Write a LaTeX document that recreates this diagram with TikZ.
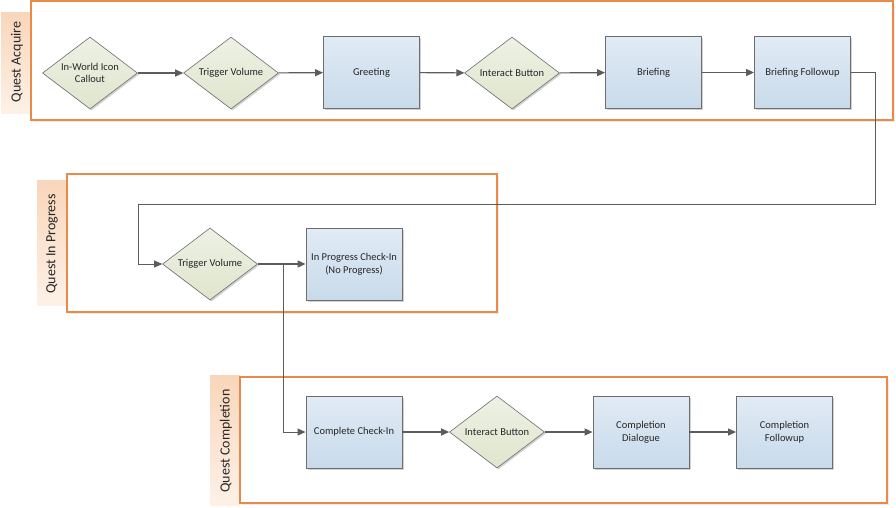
\documentclass[tikz,border=0pt]{standalone}
\usepackage{fontspec}
\setmainfont{Carlito}
\usetikzlibrary{shapes.geometric,arrows.meta,shadows}

\definecolor{laneorange}{HTML}{E98A48}
\definecolor{tabtop}{HTML}{F9D6BA}
\definecolor{tabbottom}{HTML}{FDF1E7}
\definecolor{boxtop}{HTML}{E1EBF5}
\definecolor{boxbottom}{HTML}{C8DAEA}
\definecolor{decisiontop}{HTML}{EEF1E4}
\definecolor{decisionbottom}{HTML}{DFE5CD}
\definecolor{edgegray}{HTML}{6E6E6E}
\definecolor{linegray}{HTML}{5C5C5C}
\definecolor{textdark}{HTML}{262626}

\tikzset{
  lane/.style={draw=laneorange, line width=1.3pt, fill=white,
    general shadow={shadow xshift=1.5pt, shadow yshift=-1.5pt, fill=black, opacity=0.08}},
  lanetab/.style={top color=tabtop, bottom color=tabbottom, draw=none},
  lanelabel/.style={rotate=90, font=\fontsize{14}{16}\selectfont, text=textdark},
  castshadow/.style={general shadow={shadow xshift=1.5pt, shadow yshift=-1.5pt, fill=black, opacity=0.18}},
  process/.style={rectangle, draw=edgegray, line width=0.9pt, top color=boxtop, bottom color=boxbottom,
    minimum width=96pt, minimum height=72pt, inner sep=2pt, align=center, castshadow,
    font=\fontsize{10.5}{12.7}\selectfont, text=textdark},
  decision/.style={diamond, draw=edgegray, line width=0.6pt, top color=decisiontop, bottom color=decisionbottom,
    minimum width=95pt, minimum height=72pt, inner sep=0pt, aspect=1.3, align=center, castshadow,
    font=\fontsize{10.5}{12.7}\selectfont, text=textdark},
  flow/.style={draw=linegray, line width=1.1pt, -{Triangle[length=8pt,width=7pt]}},
}

\begin{document}
\begin{tikzpicture}[x=1pt,y=-1pt]
\useasboundingbox (0,0) rectangle (896,507);

\fill[lanetab] (1,12) rectangle (31,113);
\draw[lane] (31,1) rectangle (893,120);
\node[lanelabel] (acquire) at (17,62) {Quest Acquire};

\fill[lanetab] (37,180) rectangle (67,305);
\draw[lane] (67,174) rectangle (497,312);
\node[lanelabel] (inprogress) at (52,244) {Quest In Progress};

\fill[lanetab] (210,375) rectangle (240,505);
\draw[lane] (240,377) rectangle (887,503);
\node[lanelabel] (completion) at (226,441) {Quest Completion};

\node[decision] (iconcallout) at (90,73) {In-World Icon\\Callout};
\node[decision] (trigger) at (231,73) {Trigger Volume};
\node[process] (greeting) at (371.5,72.5) {Greeting};
\node[decision] (interact) at (512,73) {Interact Button};
\node[process] (briefing) at (653.5,72.5) {Briefing};
\node[process] (briefingfollow) at (802.5,72.5) {Briefing Followup};

\node[decision] (triggerprog) at (210,264) {Trigger Volume};
\node[process] (progcheck) at (354,264) {In Progress Check-In\\(No Progress)};

\node[process] (completecheck) at (354,432) {Complete Check-In};
\node[decision] (interactdone) at (497,432) {Interact Button};
\node[process] (compdialogue) at (641,432) {Completion\\Dialogue};
\node[process] (compfollow) at (784.5,432) {Completion\\Followup};

\coordinate (loopright) at (875,204);
\coordinate (loopleft) at (138,204);
\coordinate (split) at (283,264);

\draw[flow] (iconcallout) -- (trigger);
\draw[flow] (trigger) -- (greeting);
\draw[flow] (greeting) -- (interact);
\draw[flow] (interact) -- (briefing);
\draw[flow] (briefing) -- (briefingfollow);
\draw[flow, line width=0.9pt] (briefingfollow.east) -| (loopright) -- (loopleft) |- (triggerprog.west);

\draw[flow] (triggerprog) -- (progcheck);
\draw[flow, line width=0.9pt] (split) |- (completecheck.west);

\draw[flow] (completecheck) -- (interactdone);
\draw[flow] (interactdone) -- (compdialogue);
\draw[flow] (compdialogue) -- (compfollow);
\end{tikzpicture}
\end{document}
